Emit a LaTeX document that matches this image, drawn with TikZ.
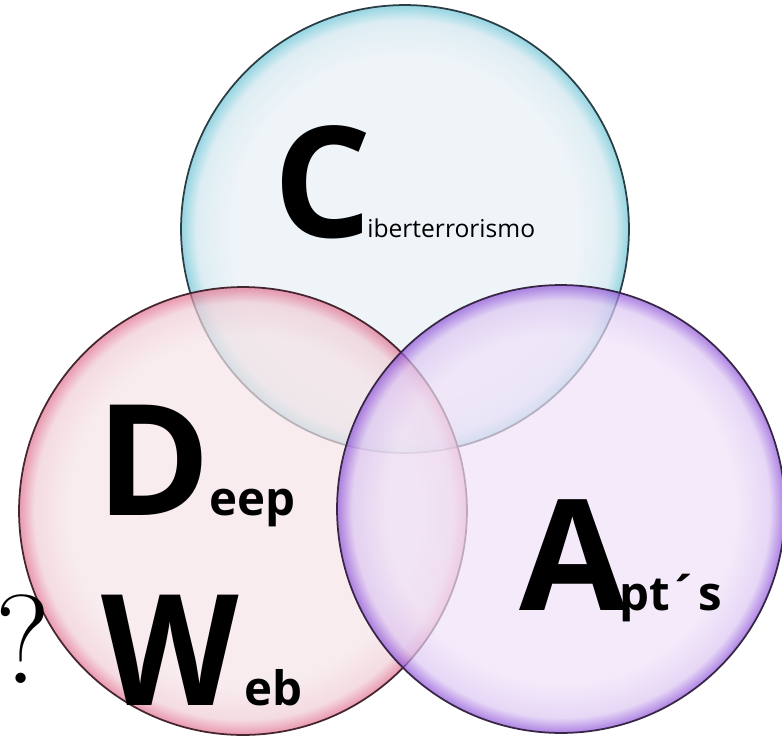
\documentclass[tikz,border=0pt]{standalone}
\usepackage{fontspec}
\setmainfont{Open Sans}
\newfontfamily\qfont{Latin Modern Roman}
% bubble colours (inner, middle, rim, outline)
\definecolor{cibin}{HTML}{E7EFF5}
\definecolor{cibmid}{HTML}{CFE6EE}
\definecolor{cibrim}{HTML}{72C7D8}
\definecolor{cibline}{HTML}{2A3E45}
\definecolor{dwin}{HTML}{F5E4E7}
\definecolor{dwmid}{HTML}{F0CCD6}
\definecolor{dwrim}{HTML}{E27794}
\definecolor{dwline}{HTML}{45262F}
\definecolor{aptin}{HTML}{EFE1F8}
\definecolor{aptmid}{HTML}{DCC6F2}
\definecolor{aptrim}{HTML}{945BDB}
\definecolor{aptline}{HTML}{372645}
\pgfdeclareradialshading{bubcib}{\pgfpoint{0bp}{0bp}}{color(0bp)=(cibin); color(19.5bp)=(cibin); color(23.3bp)=(cibmid); color(24.8bp)=(cibrim); color(50bp)=(cibrim)}
\pgfdeclareradialshading{bubdw}{\pgfpoint{0bp}{0bp}}{color(0bp)=(dwin); color(19.5bp)=(dwin); color(23.3bp)=(dwmid); color(24.8bp)=(dwrim); color(50bp)=(dwrim)}
\pgfdeclareradialshading{bubapt}{\pgfpoint{0bp}{0bp}}{color(0bp)=(aptin); color(19.5bp)=(aptin); color(23.3bp)=(aptmid); color(24.8bp)=(aptrim); color(50bp)=(aptrim)}
\begin{document}
\begin{tikzpicture}[x=0.02cm,y=-0.02cm,
  bubble/.style={circle,draw,line width=1pt,minimum size=8.96cm,inner sep=0pt,fill opacity=0.7},
  big/.style={font=\fontsize{88}{88}\selectfont\bfseries,anchor=base west,inner sep=0pt},
  tail/.style={font=\fontsize{27}{27}\selectfont\bfseries,anchor=base west,inner sep=0pt}]
  \useasboundingbox (0,0) rectangle (782,735);
  % the three bubbles
  \node[bubble,shading=bubcib,draw=cibline] (cib) at (405,229) {};
  \node[bubble,shading=bubdw,draw=dwline] (dw) at (243,511) {};
  \node[bubble,shading=bubapt,draw=aptline] (apt) at (561,509) {};
  % labels
  \node[big] (cbig) at (273,237) {C};
  \node[tail,font=\fontsize{14}{14}\selectfont] (ctail) at (367,237) {iberterrorismo};
  \node[big] (dbig) at (96,515) {D};
  \node[tail] (dtail) at (209,515) {eep};
  \node[big] (wbig) at (101,705) {\scalebox{0.92}[1]{W}};
  \node[tail] (wtail) at (244,705) {eb};
  \node[big] (abig) at (519,610) {A};
  \node[tail] (atail) at (619,610) {pt´s};
  \node[anchor=base west,inner sep=0pt,font=\fontsize{72}{72}\selectfont\qfont] (qm) at (-5,683) {?};
\end{tikzpicture}
\end{document}
